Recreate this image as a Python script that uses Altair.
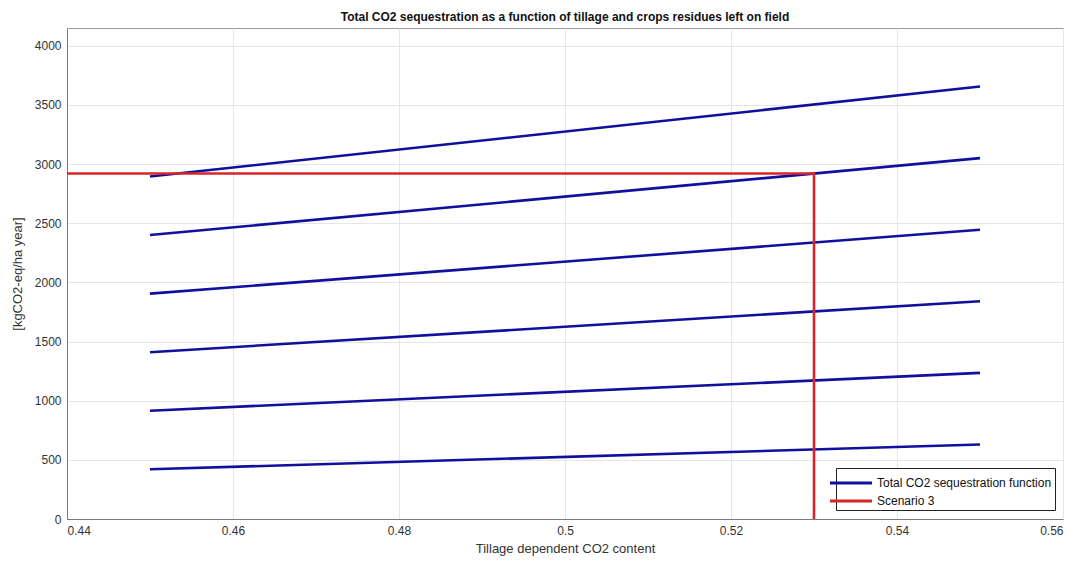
import altair as alt
import pandas as pd

# Data
x_start = 0.45
x_end = 0.55
line_start = [420, 915, 1410, 1905, 2400, 2895]
line_end = [630, 1235, 1840, 2445, 3050, 3655]

scenario_x = [0.44, 0.53, 0.53]
scenario_y = [2920, 2920, 0]

series_names = ["Total CO2 sequestration function", "Scenario 3"]
series_colors = ["#10109E", "#D7262B"]

x_ticks = [0.44, 0.46, 0.48, 0.50, 0.52, 0.54, 0.56]
y_ticks = [0, 500, 1000, 1500, 2000, 2500, 3000, 3500, 4000]

rows = []
for i, (s, e) in enumerate(zip(line_start, line_end)):
    rows.append({"x": x_start, "y": s, "id": f"L{i}", "series": series_names[0], "o": 0})
    rows.append({"x": x_end, "y": e, "id": f"L{i}", "series": series_names[0], "o": 1})
for j, (sx, sy) in enumerate(zip(scenario_x, scenario_y)):
    rows.append({"x": sx, "y": sy, "id": "S", "series": series_names[1], "o": j})
df = pd.DataFrame(rows)

font = "Liberation Sans"

chart = alt.Chart(df).mark_line(strokeWidth=2.6).encode(
    x=alt.X("x:Q",
            scale=alt.Scale(domain=[0.44, 0.56], nice=False, zero=False),
            axis=alt.Axis(values=x_ticks, format="~g", title="Tillage dependent CO2 content")),
    y=alt.Y("y:Q",
            scale=alt.Scale(domain=[0, 4150], nice=False),
            axis=alt.Axis(values=y_ticks, format="d", title="[kgCO2-eq/ha year]")),
    color=alt.Color("series:N",
                    scale=alt.Scale(domain=series_names, range=series_colors),
                    legend=alt.Legend(title=None, orient="none", legendX=769, legendY=440,
                                      symbolType="M-2,0H2", symbolSize=441,
                                      symbolStrokeWidth=3, labelFontSize=12,
                                      labelFont=font, labelColor="#111111", labelLimit=0,
                                      strokeColor="#222222", fillColor="white",
                                      padding=3, rowPadding=-10, labelOffset=14)),
    detail="id:N",
    order="o:Q",
).properties(
    width=996, height=491,
    padding={"left": 3, "top": 3, "right": 5, "bottom": 5},
    title=alt.TitleParams("Total CO2 sequestration as a function of tillage and crops residues left on field",
                          font=font, fontSize=12, fontWeight="bold", color="#111111", offset=4),
).configure_view(
    stroke="#9a9a9a", strokeWidth=1
).configure_axis(
    grid=True, gridColor="#e6e6e6", gridWidth=1,
    domainColor="#7a7a7a", tickColor="#7a7a7a", tickSize=0,
    labelFont=font, labelFontSize=12, labelColor="#333333", labelPadding=6,
    titleFont=font, titleFontSize=13, titleFontWeight="normal", titleColor="#333333",
).configure_axisY(titlePadding=10).configure_axisX(titlePadding=6)

chart.save("out.html", embed_options={"renderer": "svg", "actions": False})
